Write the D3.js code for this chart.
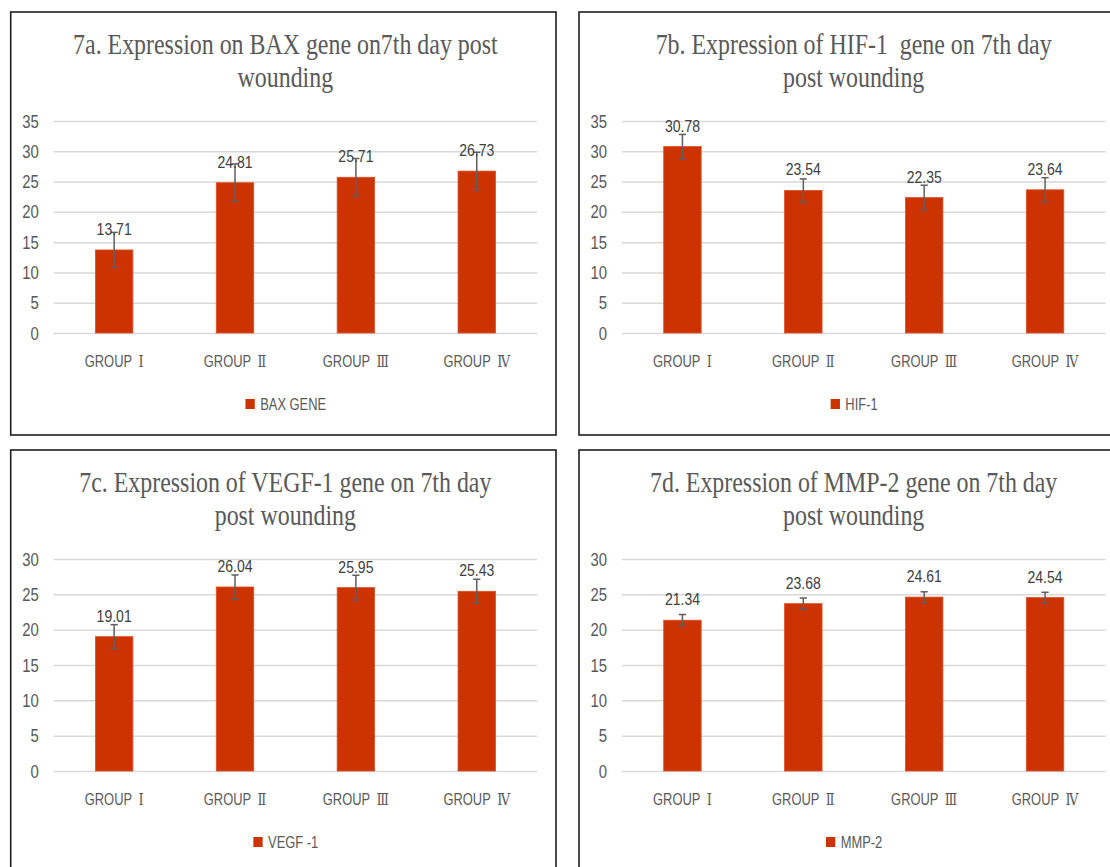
<!DOCTYPE html>
<html>
<head>
<meta charset="utf-8">
<script src="https://cdn.jsdelivr.net/npm/d3@7/dist/d3.min.js"></script>
<style>
  body { margin: 0; background: #fff; }
  svg { display: block; }
</style>
</head>
<body>
<svg id="chart" width="1110" height="867"></svg>
<script>
// ---- data -------------------------------------------------------------
const categories = ["GROUP Ⅰ", "GROUP Ⅱ", "GROUP Ⅲ", "GROUP Ⅳ"];

const baxValues  = [13.71, 24.81, 25.71, 26.73];
const baxErrors  = [2.9, 3.1, 3.1, 3.1];

const hifValues  = [30.78, 23.54, 22.35, 23.64];
const hifErrors  = [2.0, 1.9, 2.05, 2.0];

const vegfValues = [19.01, 26.04, 25.95, 25.43];
const vegfErrors = [1.7, 1.7, 1.75, 1.7];

const mmpValues  = [21.34, 23.68, 24.61, 24.54];
const mmpErrors  = [0.8, 0.8, 0.75, 0.75];

const ticksTo35 = [0, 5, 10, 15, 20, 25, 30, 35];
const ticksTo30 = [0, 5, 10, 15, 20, 25, 30];

const titles = [
  ["7a. Expression on BAX gene on7th day post", "wounding"],
  ["7b. Expression of HIF-1  gene on 7th day", "post wounding"],
  ["7c. Expression of VEGF-1 gene on 7th day", "post wounding"],
  ["7d. Expression of MMP-2 gene on 7th day", "post wounding"]
];
const legendNames = ["BAX GENE", "HIF-1", "VEGF -1", "MMP-2"];

// ---- look -------------------------------------------------------------
const SANS = "'Liberation Sans', Arial, sans-serif";
const SERIF = "'Liberation Serif', 'Times New Roman', serif";
const NUMERAL = "'DejaVu Serif', 'Noto Sans CJK SC', serif";
const BAR = "#cc3300";
const GREY = "#595959";

const PW = 545.3, PH = 423;               // panel box
const PL = 43, PR = 526.5;                // plot left / right inside panel
const PT = 109, PB = 321;                 // plot top / bottom inside panel

const svg = d3.select("#chart");

const panels = [
  { x0: 10.7, y0: 12,  values: baxValues,  errors: baxErrors,  max: 35, ticks: ticksTo35 },
  { x0: 579,  y0: 12,  values: hifValues,  errors: hifErrors,  max: 35, ticks: ticksTo35 },
  { x0: 10.7, y0: 450, values: vegfValues, errors: vegfErrors, max: 30, ticks: ticksTo30 },
  { x0: 579,  y0: 450, values: mmpValues,  errors: mmpErrors,  max: 30, ticks: ticksTo30 }
];

panels.forEach((p, i) => drawPanel(p, titles[i], legendNames[i]));

function drawPanel(p, title, legendName) {
  const g = svg.append("g").attr("transform", `translate(${p.x0},${p.y0})`);

  g.append("rect")
    .attr("width", PW).attr("height", PH)
    .attr("fill", "#fff")
    .attr("stroke", "#1f1f1f").attr("stroke-width", 1.6);

  const x = d3.scaleBand().domain(categories).range([PL, PR])
    .paddingInner(0.69).paddingOuter(0.345);
  const y = d3.scaleLinear().domain([0, p.max]).range([PB, PT]);

  // title, two lines
  title.forEach((line, k) => {
    g.append("text")
      .attr("transform", `translate(${PW / 2 + 2},${k === 0 ? 42.3 : 74.5}) scale(0.81,1)`)
      .attr("text-anchor", "middle")
      .style("white-space", "pre")
      .attr("font-family", SERIF).attr("font-size", 29.5)
      .attr("fill", GREY)
      .text(line);
  });

  // value axis with gridlines
  const yAxis = g.append("g")
    .attr("transform", `translate(${PL},0)`)
    .call(d3.axisLeft(y).tickValues(p.ticks).tickSize(-(PR - PL)).tickPadding(15));
  yAxis.select(".domain").remove();
  yAxis.selectAll(".tick line").attr("stroke", "#d9d9d9").attr("stroke-width", 1.5);
  yAxis.selectAll(".tick text")
    .attr("x", null).attr("dy", null)
    .attr("transform", "translate(-15,6) scale(0.85,1)")
    .attr("font-family", SANS).attr("font-size", 17.5)
    .attr("fill", GREY);

  // category axis labels
  const xAxis = g.append("g")
    .attr("transform", `translate(0,${PB})`)
    .call(d3.axisBottom(x).tickSize(0));
  xAxis.select(".domain").remove();
  xAxis.selectAll(".tick text")
    .attr("y", null).attr("dy", null)
    .attr("transform", "translate(0,33.5) scale(0.76,1)")
    .attr("font-size", 17).attr("fill", GREY)
    .text(null)
    .each(function (d) {
      const parts = d.split(" ");
      const t = d3.select(this);
      t.append("tspan").attr("font-family", SANS).text(parts[0] + " ");
      t.append("tspan").attr("font-family", NUMERAL).attr("dx", 4).text(parts[1]);
    });

  // bars
  g.selectAll("rect.bar")
    .data(p.values)
    .join("rect")
    .attr("class", "bar")
    .attr("x", (d, i) => x(categories[i]))
    .attr("width", x.bandwidth())
    .attr("y", d => y(d))
    .attr("height", d => y(0) - y(d))
    .attr("fill", BAR)
    .attr("stroke", "#dc5028").attr("stroke-width", 0.8);

  // error bars
  const cx = i => x(categories[i]) + x.bandwidth() / 2;
  const err = g.append("g").attr("stroke", "#5f5f5f").attr("stroke-width", 1.5);
  p.values.forEach((v, i) => {
    const e = p.errors[i];
    err.append("line").attr("x1", cx(i)).attr("x2", cx(i))
      .attr("y1", y(v + e)).attr("y2", y(v - e));
    [v + e, v - e].forEach(w => {
      err.append("line").attr("x1", cx(i) - 3.6).attr("x2", cx(i) + 3.6)
        .attr("y1", y(w)).attr("y2", y(w));
    });
  });

  // value labels
  g.selectAll("text.value")
    .data(p.values)
    .join("text")
    .attr("class", "value")
    .attr("transform", (d, i) => `translate(${cx(i)},${y(d) - 15}) scale(0.85,1)`)
    .attr("text-anchor", "middle")
    .attr("font-family", SANS).attr("font-size", 16.5)
    .attr("fill", "#404040")
    .text(d => d.toFixed(2));

  // legend
  const sx = 0.76;
  const lg = g.append("g");
  const lt = lg.append("text")
    .attr("font-family", SANS).attr("font-size", 17)
    .attr("fill", GREY)
    .text(legendName);
  const tw = lt.node().getComputedTextLength() * sx;
  const sq = 9.3, gap = 5.4;
  const left = PW / 2 + 2.5 - (sq + gap + tw) / 2;
  lg.insert("rect", "text")
    .attr("x", left).attr("y", 387)
    .attr("width", sq).attr("height", 10)
    .attr("fill", BAR);
  lt.attr("transform", `translate(${left + sq + gap},398) scale(${sx},1)`);
}
</script>
</body>
</html>
